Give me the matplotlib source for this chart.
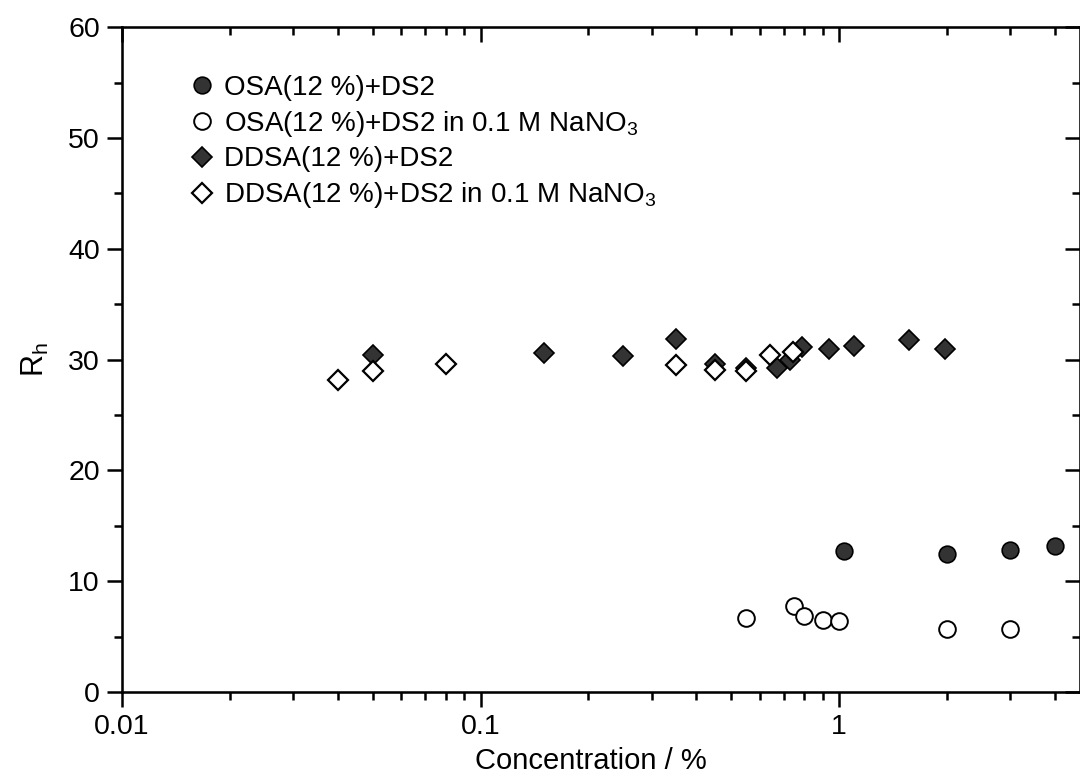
import matplotlib
matplotlib.use("Agg")
import matplotlib.pyplot as plt
from matplotlib.ticker import LogLocator, MultipleLocator, NullFormatter, FixedLocator, FixedFormatter

plt.rcParams['font.family'] = ['Liberation Sans', 'DejaVu Sans']
plt.rcParams['mathtext.fontset'] = 'custom'
plt.rcParams['mathtext.rm'] = 'Liberation Sans'
plt.rcParams['mathtext.it'] = 'Liberation Sans'

# OSA(12 %)+DS2
osa_x = [1.03, 2.0, 3.0, 4.0]
osa_y = [12.7, 12.5, 12.8, 13.2]

# OSA(12 %)+DS2 in 0.1 M NaNO3
osa_salt_x = [0.55, 0.75, 0.80, 0.90, 1.0, 2.0, 3.0]
osa_salt_y = [6.7, 7.8, 6.9, 6.5, 6.4, 5.7, 5.7]

# DDSA(12 %)+DS2
ddsa_x = [0.05, 0.15, 0.25, 0.35, 0.45, 0.55, 0.67, 0.73, 0.79, 0.94, 1.10, 1.57, 1.97]
ddsa_y = [30.4, 30.6, 30.3, 31.9, 29.6, 29.2, 29.2, 30.0, 31.1, 31.0, 31.2, 31.8, 31.0]

# DDSA(12 %)+DS2 in 0.1 M NaNO3
ddsa_salt_x = [0.04, 0.05, 0.08, 0.35, 0.45, 0.55, 0.64, 0.745]
ddsa_salt_y = [28.2, 29.0, 29.6, 29.5, 29.1, 29.0, 30.4, 30.7]

labels = ['OSA(12 %)+DS2',
          'OSA(12 %)+DS2 in 0.1 M NaNO$_3$',
          'DDSA(12 %)+DS2',
          'DDSA(12 %)+DS2 in 0.1 M NaNO$_3$']

fig = plt.figure(figsize=(10.8, 7.78), dpi=100)
ax = fig.add_axes([0.113, 0.1105, 0.887, 0.8545])

fill = '#333333'
ax.plot(osa_x, osa_y, 'o', ms=12, mfc=fill, mec='black', mew=1.2, label=labels[0])
ax.plot(osa_salt_x, osa_salt_y, 'o', ms=12, mfc='white', mec='black', mew=1.4, label=labels[1])
ax.plot(ddsa_x, ddsa_y, 'D', ms=10.5, mfc=fill, mec='black', mew=1.2, label=labels[2])
ax.plot(ddsa_salt_x, ddsa_salt_y, 'D', ms=10.5, mfc='white', mec='black', mew=1.6, label=labels[3])

ax.set_xscale('log')
ax.set_xlim(0.01, 4.70)
ax.set_ylim(0, 60)

ax.xaxis.set_major_locator(FixedLocator([0.01, 0.1, 1]))
ax.xaxis.set_major_formatter(FixedFormatter(['0.01', '0.1', '1']))
ax.xaxis.set_minor_locator(LogLocator(base=10, subs=range(2, 10), numticks=20))
ax.xaxis.set_minor_formatter(NullFormatter())
ax.yaxis.set_major_locator(MultipleLocator(10))
ax.yaxis.set_minor_locator(MultipleLocator(5))

ax.tick_params(which='major', direction='out', length=11, width=1.8, labelsize=20.5, pad=5)
ax.tick_params(which='minor', direction='out', length=6, width=1.8)

ax.set_xlabel('Concentration / %', fontsize=21)
ax.xaxis.set_label_coords(0.489, -0.083)
ax.set_ylabel('R$_\\mathregular{h}$', fontsize=22, labelpad=12)

for s in ax.spines.values():
    s.set_linewidth(1.8)

# top and right axes with inward ticks
top = ax.twiny()
top.set_xscale('log')
top.set_xlim(ax.get_xlim())
top.xaxis.set_major_locator(FixedLocator([0.01, 0.1, 1]))
top.xaxis.set_minor_locator(LogLocator(base=10, subs=range(2, 10), numticks=20))
top.tick_params(which='major', direction='in', length=11, width=1.8, labeltop=False)
top.tick_params(which='minor', direction='in', length=6, width=1.8)

right = ax.twinx()
right.set_ylim(ax.get_ylim())
right.yaxis.set_major_locator(MultipleLocator(10))
right.yaxis.set_minor_locator(MultipleLocator(5))
right.tick_params(which='major', direction='in', length=11, width=1.8, labelright=False)
right.tick_params(which='minor', direction='in', length=6, width=1.8)

ax.legend(loc='upper left', bbox_to_anchor=(0.057, 0.945), frameon=False,
          fontsize=20, handletextpad=0.3, labelspacing=0.28, borderaxespad=0,
          handlelength=1.0)

fig.savefig('out.png', dpi=100)
